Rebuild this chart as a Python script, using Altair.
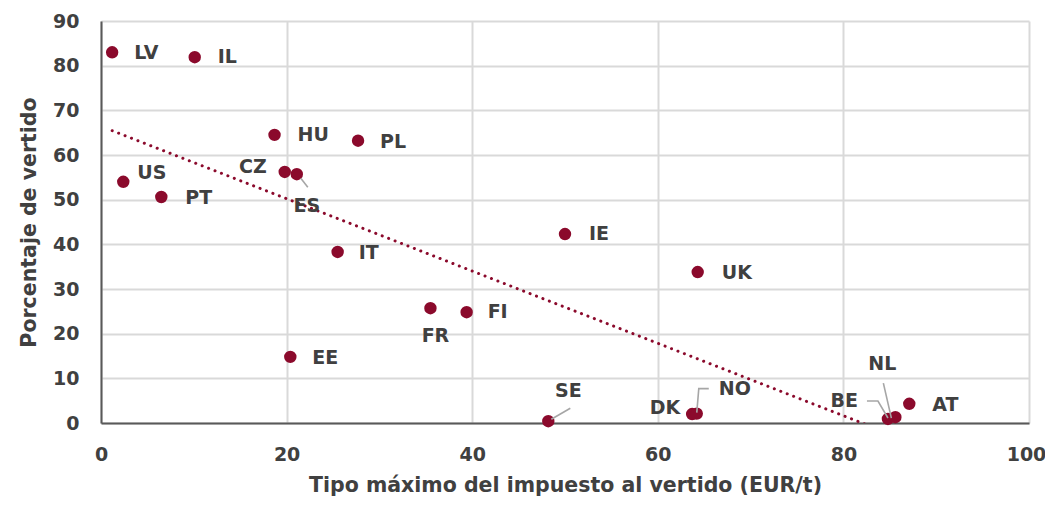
import altair as alt
import pandas as pd

# ---- data ----
countries = ["LV", "IL", "HU", "PL", "CZ", "ES", "US", "PT", "IT", "IE",
             "UK", "FR", "FI", "EE", "SE", "DK", "NO", "BE", "NL", "AT"]
tax_max = [1.2, 10.1, 18.7, 27.7, 19.8, 21.1, 2.4, 6.5, 25.5, 50.0,
           64.3, 35.5, 39.4, 20.4, 48.2, 63.7, 64.2, 84.8, 85.6, 87.1]
landfill_pct = [83.0, 81.9, 64.5, 63.2, 56.2, 55.7, 54.0, 50.6, 38.3, 42.3,
                33.8, 25.7, 24.8, 14.8, 0.4, 2.0, 2.1, 0.9, 1.3, 4.3]

x_ticks = [0, 20, 40, 60, 80, 100]
y_ticks = [0, 10, 20, 30, 40, 50, 60, 70, 80, 90]

# ---- layout (label placement in pixels relative to each point) ----
W, H = 928, 402
X_MAX, Y_MAX = 100, 90
PX_X = W / X_MAX
PX_Y = H / Y_MAX

label_offsets = {  # dx, dy (screen px), align
    "LV": (22, 1, "left"), "IL": (23, 0, "left"), "HU": (23, 0, "left"),
    "PL": (22, 1, "left"), "CZ": (-18, -5, "right"), "ES": (10, 32, "center"),
    "US": (14, -9, "left"), "PT": (24, 1, "left"), "IT": (21, 1, "left"),
    "IE": (24, 0, "left"), "UK": (24, 1, "left"), "FR": (5, 28, "center"),
    "FI": (21, 0, "left"), "EE": (22, 1, "left"), "SE": (20, -30, "center"),
    "DK": (-12, -6, "right"), "NO": (22, -25, "left"), "BE": (-30, -18, "right"),
    "NL": (-13, -53, "center"), "AT": (23, 1, "left"),
}
leader_paths = {  # polyline points, screen px relative to the point
    "ES": [(4, 4), (11, 13)],
    "SE": [(3, -2), (22, -13)],
    "NO": [(0, -1), (2, -25), (12, -25)],
    "BE": [(-21, -18), (-10, -18), (0, -1)],
    "NL": [(-12, -34), (-4, 1)],
}

POINT = "#8B0A2C"
TEXT = "#404040"
FONT = "DejaVu Sans"

df = pd.DataFrame({"pais": countries, "x": tax_max, "y": landfill_pct})

lab_rows = []
for c, xv, yv in zip(countries, tax_max, landfill_pct):
    dx, dy, al = label_offsets[c]
    lab_rows.append({"pais": c, "lx": xv + dx / PX_X, "ly": yv - dy / PX_Y, "align": al})
labels = pd.DataFrame(lab_rows)

lead_rows = []
for c, pts in leader_paths.items():
    i = countries.index(c)
    for k, (dx, dy) in enumerate(pts):
        lead_rows.append({"pais": c, "order": k,
                          "lx": tax_max[i] + dx / PX_X, "ly": landfill_pct[i] - dy / PX_Y})
leaders = pd.DataFrame(lead_rows)

xscale = alt.Scale(domain=[0, X_MAX], nice=False, zero=True)
yscale = alt.Scale(domain=[0, Y_MAX], nice=False, zero=True)

xaxis = alt.Axis(values=x_ticks, title="Tipo máximo del impuesto al vertido (EUR/t)",
                 grid=True, gridColor="#D9D9D9", gridWidth=2, ticks=False,
                 domainColor="#595959", domainWidth=2,
                 labelFont=FONT, labelFontSize=19, labelColor=TEXT, labelFontWeight="bold",
                 labelPadding=22, labelFlush=False, labelOverlap=False,
                 labelOffset={"condition": {"test": "datum.value == 100", "value": -3}, "value": 0},
                 titleFont=FONT, titleFontSize=20.5, titleColor=TEXT, titleFontWeight="bold",
                 titleBaseline="middle", titleY=62)
yaxis = alt.Axis(values=y_ticks, title="Porcentaje de vertido",
                 grid=True, gridColor="#D9D9D9", gridWidth=2, ticks=False,
                 domainColor="#595959", domainWidth=2,
                 labelFont=FONT, labelFontSize=19, labelColor=TEXT, labelFontWeight="bold",
                 labelPadding=22, labelFlush=False, labelOverlap=False,
                 titleFont=FONT, titleFontSize=20.5, titleColor=TEXT, titleFontWeight="bold",
                 titleBaseline="middle", titleX=-72)

base = alt.Chart(df)

trend = base.transform_regression("x", "y").mark_line(
    color=POINT, strokeWidth=3, strokeDash=[0.1, 6.8], strokeCap="round", clip=True
).encode(x=alt.X("x:Q", scale=xscale, axis=xaxis), y=alt.Y("y:Q", scale=yscale, axis=yaxis))

points = base.mark_circle(size=154, color=POINT, opacity=1).encode(
    x=alt.X("x:Q", scale=xscale), y=alt.Y("y:Q", scale=yscale))

lead = alt.Chart(leaders).mark_line(color="#A6A6A6", strokeWidth=1.6).encode(
    x=alt.X("lx:Q", scale=xscale), y=alt.Y("ly:Q", scale=yscale),
    detail="pais:N", order="order:Q")

text_layers = []
for al in ["left", "center", "right"]:
    text_layers.append(
        alt.Chart(labels).transform_filter(alt.datum.align == al).mark_text(
            align=al, baseline="middle", font=FONT, fontSize=19, fontWeight="bold", color=TEXT
        ).encode(x=alt.X("lx:Q", scale=xscale), y=alt.Y("ly:Q", scale=yscale), text="pais:N")
    )

chart = alt.layer(trend, points, lead, *text_layers).properties(
    width=W, height=H,
    autosize=alt.AutoSizeParams(type="none"),
    padding={"left": 93, "top": 13, "right": 16, "bottom": 76},
).configure_view(stroke=None)

chart.save("out.html", embed_options={"renderer": "svg", "actions": False})
